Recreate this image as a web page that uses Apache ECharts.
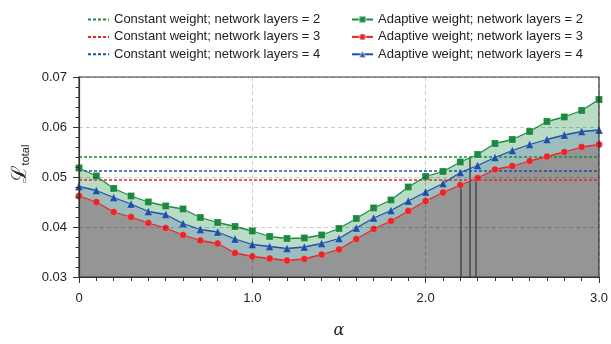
<!DOCTYPE html>
<html>
<head>
<meta charset="utf-8">
<script src="https://cdn.jsdelivr.net/npm/echarts@6/dist/echarts.min.js"></script>
<style>
  html, body { margin: 0; padding: 0; background: #fff; }
  #chart { width: 611px; height: 344px; }
</style>
</head>
<body>
<div id="chart"></div>
<script>
// Weighting parameter alpha
const alpha = [0.0, 0.1, 0.2, 0.3, 0.4, 0.5, 0.6, 0.7, 0.8, 0.9,
               1.0, 1.1, 1.2, 1.3, 1.4, 1.5, 1.6, 1.7, 1.8, 1.9,
               2.0, 2.1, 2.2, 2.3, 2.4, 2.5, 2.6, 2.7, 2.8, 2.9, 3.0];

// Total loss with adaptive weighting, per network depth
const adaptive2 = [0.0518, 0.0502, 0.0477, 0.0462, 0.0450, 0.0442, 0.0436, 0.0419, 0.0409, 0.0401,
                   0.0392, 0.0381, 0.0377, 0.0378, 0.0384, 0.0397, 0.0417, 0.0438, 0.0454, 0.0480,
                   0.0501, 0.0511, 0.0530, 0.0545, 0.0567, 0.0575, 0.0591, 0.0611, 0.0620, 0.0633, 0.0655];
const adaptive3 = [0.0462, 0.0450, 0.0430, 0.0420, 0.0408, 0.0398, 0.0384, 0.0373, 0.0367, 0.0348,
                   0.0341, 0.0337, 0.0333, 0.0336, 0.0345, 0.0355, 0.0376, 0.0396, 0.0412, 0.0432,
                   0.0452, 0.0469, 0.0484, 0.0498, 0.0515, 0.0522, 0.0532, 0.0541, 0.0550, 0.0560, 0.0565];
const adaptive4 = [0.0481, 0.0473, 0.0459, 0.0446, 0.0431, 0.0425, 0.0407, 0.0395, 0.0390, 0.0376,
                   0.0365, 0.0361, 0.0357, 0.0360, 0.0367, 0.0377, 0.0398, 0.0418, 0.0433, 0.0452,
                   0.0470, 0.0487, 0.0509, 0.0523, 0.0539, 0.0553, 0.0565, 0.0575, 0.0584, 0.0591, 0.0594];

// Total loss with constant weighting (independent of alpha)
const constant2 = 0.0540;
const constant3 = 0.0494;
const constant4 = 0.0512;

// Vertical guide lines: x position and height
const guideX   = [2.200, 2.257, 2.290];
const guideTop = [0.0484, 0.0540, 0.0498];

// Axis tick labels
const xTickLabels = ['0', '1.0', '2.0', '3.0'];
const yTickLabels = ['0.03', '0.04', '0.05', '0.06', '0.07'];

const names = {
  c2: 'Constant weight; network layers = 2',
  c3: 'Constant weight; network layers = 3',
  c4: 'Constant weight; network layers = 4',
  a2: 'Adaptive weight; network layers = 2',
  a3: 'Adaptive weight; network layers = 3',
  a4: 'Adaptive weight; network layers = 4'
};

const GREEN = '#1b8a3e';
const RED = '#e8262a';
const BLUE = '#1f4fa8';
const FONT = "'Liberation Sans', Arial, sans-serif";

const pairs = ys => alpha.map((a, i) => [a, ys[i]]);
const flat = v => [[alpha[0], v], [alpha[alpha.length - 1], v]];

function areaSeries(ys, fill, z) {
  return {
    type: 'line', data: pairs(ys), z: z, silent: true,
    symbol: 'none', lineStyle: { width: 0, opacity: 0 },
    areaStyle: { color: fill, opacity: 1, origin: 'start' },
    animation: false
  };
}

function constSeries(name, v, color) {
  return {
    name: name, type: 'line', data: flat(v), z: 6, silent: true,
    symbol: 'none', itemStyle: { color: color },
    lineStyle: { color: color, width: 1.5, type: [3, 2] },
    animation: false
  };
}

function adaptiveSeries(name, ys, color, symbol, size) {
  return {
    name: name, type: 'line', data: pairs(ys), z: 8,
    symbol: symbol, symbolSize: size, showAllSymbol: true,
    itemStyle: { color: color, borderColor: 'rgba(255,255,255,0.35)', borderWidth: 0.6 },
    lineStyle: { color: color, width: 1.3 },
    animation: false
  };
}

const guideSegments = guideX.map((x, i) => [
  { coord: [x, 0.03] }, { coord: [x, guideTop[i]] }
]);

const legendCommon = {
  orient: 'vertical', top: 8, itemGap: 4.4,
  itemWidth: 21, itemHeight: 8,
  textStyle: { fontSize: 13, color: '#222', fontFamily: FONT, lineHeight: 13 }
};

const chart = echarts.init(document.getElementById('chart'), null, { renderer: 'canvas' });

chart.setOption({
  backgroundColor: '#fff',
  animation: false,
  textStyle: { fontFamily: FONT },
  grid: {
    left: 79, right: 10, top: 77, bottom: 62, z: 10,
    show: true, borderColor: '#333', borderWidth: 1.2, backgroundColor: 'transparent'
  },
  legend: [
    Object.assign({}, legendCommon, {
      left: 82,
      data: [names.c2, names.c3, names.c4].map(n => ({ name: n, itemStyle: { opacity: 0 } }))
    }),
    Object.assign({}, legendCommon, {
      left: 346,
      data: [names.a2, names.a3, names.a4]
    })
  ],
  xAxis: {
    type: 'value', min: 0, max: 3, interval: 1, z: 9,
    name: 'α', nameLocation: 'middle', nameGap: 46,
    nameTextStyle: { fontFamily: 'DejaVu Serif', fontStyle: 'italic', fontSize: 16, color: '#222' },
    axisLine: { show: true, onZero: false, lineStyle: { color: '#333', width: 1.2 } },
    axisTick: { show: true, length: 6, lineStyle: { color: '#333', width: 1 } },
    minorTick: { show: true, splitNumber: 10, length: 4, lineStyle: { color: '#333', width: 1 } },
    axisLabel: {
      fontSize: 13, color: '#222', margin: 15,
      formatter: v => xTickLabels[Math.round(v)]
    },
    splitLine: { show: true, lineStyle: { type: [4, 3], color: 'rgba(0,0,0,0.2)', width: 1 } }
  },
  yAxis: {
    type: 'value', min: 0.03, max: 0.07, interval: 0.01, z: 9,
    axisLine: { show: true, onZero: false, lineStyle: { color: '#333', width: 1.2 } },
    axisTick: { show: true, length: 6, lineStyle: { color: '#333', width: 1 } },
    minorTick: { show: true, splitNumber: 5, length: 3.5, lineStyle: { color: '#333', width: 1 } },
    axisLabel: {
      fontSize: 13, color: '#222', margin: 12,
      formatter: v => yTickLabels[Math.round((v - 0.03) / 0.01)]
    },
    splitLine: { show: true, lineStyle: { type: [4, 3], color: 'rgba(0,0,0,0.2)', width: 1 } }
  },
  graphic: [
    {
      type: 'text', x: 19, y: 164, rotation: Math.PI / 2, z: 20,
      style: {
        text: '{L|ℒ}{s|total}',
        align: 'center', verticalAlign: 'middle',
        rich: {
          L: { fontSize: 21, fontFamily: 'DejaVu Serif', fill: '#222', lineHeight: 24, verticalAlign: 'bottom' },
          s: { fontSize: 11, fontFamily: FONT, fill: '#222', lineHeight: 24, verticalAlign: 'bottom' }
        }
      }
    }
  ],
  series: [
    areaSeries(adaptive2, '#b9dcc4', 2),
    areaSeries(adaptive4, '#9bbdbe', 3),
    areaSeries(adaptive3, '#959595', 4),
    constSeries(names.c2, constant2, GREEN),
    constSeries(names.c3, constant3, RED),
    constSeries(names.c4, constant4, BLUE),
    {
      type: 'line', data: [], z: 7, silent: true,
      markLine: {
        silent: true, symbol: ['none', 'none'], animation: false,
        label: { show: false },
        lineStyle: { color: '#4a4a4a', width: 1.5, type: 'solid' },
        data: guideSegments
      }
    },
    adaptiveSeries(names.a2, adaptive2, GREEN, 'rect', 7),
    adaptiveSeries(names.a3, adaptive3, RED, 'circle', 7),
    adaptiveSeries(names.a4, adaptive4, BLUE, 'triangle', 8)
  ]
});
</script>
</body>
</html>
